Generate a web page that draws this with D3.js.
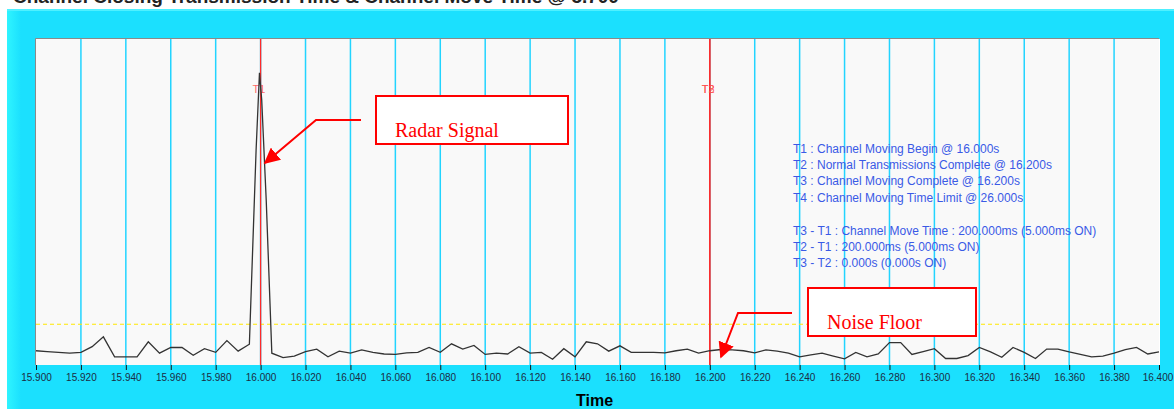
<!DOCTYPE html>
<html>
<head>
<meta charset="utf-8">
<script src="https://cdn.jsdelivr.net/npm/d3@7"></script>
<style>
  body { margin: 0; background: #fff; }
  svg { display: block; }
</style>
</head>
<body>
<svg width="1174" height="409"></svg>
<script>
// sample times (s) and levels (dBm)
var times = [15.900, 15.905, 15.910, 15.915, 15.920, 15.925, 15.930, 15.935, 15.940, 15.945,
  15.950, 15.955, 15.960, 15.965, 15.970, 15.975, 15.980, 15.985, 15.990, 15.995,
  15.998, 15.9995, 16.0005, 16.0025, 16.005,
  16.010, 16.015, 16.020, 16.025, 16.030, 16.035, 16.040, 16.045, 16.050, 16.055,
  16.060, 16.065, 16.070, 16.075, 16.080, 16.085, 16.090, 16.095, 16.100, 16.105,
  16.110, 16.115, 16.120, 16.125, 16.130, 16.135, 16.140, 16.145, 16.150, 16.155,
  16.160, 16.165, 16.170, 16.175, 16.180, 16.185, 16.190, 16.195, 16.200, 16.205,
  16.210, 16.215, 16.220, 16.225, 16.230, 16.235, 16.240, 16.245, 16.250, 16.255,
  16.260, 16.265, 16.270, 16.275, 16.280, 16.285, 16.290, 16.295, 16.300, 16.305,
  16.310, 16.315, 16.320, 16.325, 16.330, 16.335, 16.340, 16.345, 16.350, 16.355,
  16.360, 16.365, 16.370, 16.375, 16.380, 16.385, 16.390, 16.395, 16.400];
var levels = [-96.5, -96.7, -96.9, -97.1, -96.9, -95.5, -93.1, -98.0, -98.0, -98.0,
  -94.3, -97.1, -95.7, -95.7, -97.6, -96.0, -96.9, -94.0, -96.6, -94.9,
  -47.2, -28.3, -35.0, -59.5, -97.1,
  -98.2, -97.8, -96.7, -96.1, -98.0, -96.6, -97.1, -96.3, -96.9, -97.3,
  -97.4, -97.0, -96.9, -95.7, -96.9, -94.8, -96.1, -95.2, -97.4, -97.1,
  -97.3, -95.5, -97.1, -96.9, -98.6, -96.0, -98.0, -94.3, -94.8, -96.6,
  -95.3, -96.9, -96.9, -96.9, -97.0, -96.5, -96.1, -97.1, -96.5, -96.2,
  -96.3, -96.5, -97.0, -96.3, -96.6, -97.1, -98.0, -97.5, -97.1, -97.8,
  -98.5, -96.9, -98.0, -97.3, -94.5, -94.5, -97.4, -96.7, -96.0, -98.4,
  -98.4, -97.7, -95.7, -96.8, -98.1, -95.7, -96.9, -98.4, -96.1, -96.1,
  -96.8, -97.4, -98.0, -97.8, -97.1, -96.2, -95.7, -97.3, -96.8];

var noiseFloor = -90;

var markerNames = ["T1", "T2", "T3"];
var markerTimes = [16.000, 16.200, 16.200];

var infoLines = [
  "T1 : Channel Moving Begin @ 16.000s",
  "T2 : Normal Transmissions Complete @ 16.200s",
  "T3 : Channel Moving Complete @ 16.200s",
  "T4 : Channel Moving Time Limit @ 26.000s",
  "",
  "T3 - T1 : Channel Move Time : 200.000ms (5.000ms ON)",
  "T2 - T1 : 200.000ms (5.000ms ON)",
  "T3 - T2 : 0.000s (0.000s ON)"
];

var titleText = "Channel Closing Transmission Time & Channel Move Time @ 5.700";

var svg = d3.select("svg");

// title (cut off by the top of the window, as in the capture)
svg.append("text")
  .attr("x", 13).attr("y", 3)
  .style("font-family", "Arial, 'Liberation Sans', sans-serif")
  .style("font-weight", "bold")
  .style("font-size", "19px")
  .style("fill", "#222")
  .text(titleText);

// cyan panel
var defs = svg.append("defs");
var grad = defs.append("linearGradient").attr("id", "edge").attr("x1", 0).attr("x2", 1);
grad.append("stop").attr("offset", 0).attr("stop-color", "#2ff4ff");
grad.append("stop").attr("offset", 1).attr("stop-color", "#1be0fe");

svg.append("rect")
  .attr("x", 7).attr("y", 9).attr("width", 1167).attr("height", 400)
  .style("fill", "#1be0fe");
svg.append("rect")
  .attr("x", 7).attr("y", 9).attr("width", 14).attr("height", 400)
  .style("fill", "url(#edge)");
svg.append("rect")
  .attr("x", 7).attr("y", 9).attr("width", 1167).attr("height", 2)
  .style("fill", "#4ef0ff");

var plotLeft = 36, plotRight = 1159, plotTop = 39, plotBottom = 365;

var x = d3.scaleLinear().domain([15.9, 16.4]).range([plotLeft, plotRight]);
var y = d3.scaleLinear().domain([-100, -20]).range([plotBottom, plotTop]);

// plot area
svg.append("rect")
  .attr("x", plotLeft).attr("y", plotTop)
  .attr("width", plotRight - plotLeft).attr("height", plotBottom - plotTop)
  .style("fill", "#f9f9f9");
svg.append("line")
  .attr("x1", plotRight + 0.5).attr("x2", plotRight + 0.5).attr("y1", plotTop).attr("y2", plotBottom)
  .style("stroke", "#ffffff").style("stroke-width", 1);
svg.append("path")
  .attr("d", "M" + (plotLeft - 0.5) + "," + plotBottom + "V" + (plotTop - 0.5) + "H" + plotRight)
  .style("fill", "none").style("stroke", "#8a8a8a").style("stroke-width", 1);

var ticks = d3.range(0, 26).map(function(i) { return 15.9 + i * 0.02; });

// grid
svg.append("g").selectAll("line")
  .data(ticks.slice(1, -1))
  .enter()
  .append("line")
  .attr("x1", function(d) { return x(d); })
  .attr("x2", function(d) { return x(d); })
  .attr("y1", plotTop).attr("y2", plotBottom)
  .style("stroke", "#22d4ff")
  .style("stroke-width", 1.5);

// noise floor threshold
svg.append("line")
  .attr("x1", plotLeft).attr("x2", plotRight)
  .attr("y1", y(noiseFloor)).attr("y2", y(noiseFloor))
  .style("stroke", "#ffe800")
  .style("stroke-width", 1.2)
  .style("stroke-dasharray", "4,3");

// markers
svg.append("g").selectAll("line")
  .data(markerTimes)
  .enter()
  .append("line")
  .attr("x1", function(d) { return x(d); })
  .attr("x2", function(d) { return x(d); })
  .attr("y1", plotTop).attr("y2", plotBottom)
  .style("stroke", "#ff2a2a")
  .style("stroke-width", 1.3);

svg.append("g").selectAll("text")
  .data(markerNames)
  .enter()
  .append("text")
  .attr("x", function(d, i) { return x(markerTimes[i]) - 8; })
  .attr("y", 93)
  .style("font-family", "Arial, 'Liberation Sans', sans-serif")
  .style("font-size", "11px")
  .style("fill", "#ff4a4a")
  .style("fill-opacity", 0.85)
  .text(function(d) { return d; });

// trace
var pts = times.map(function(t, i) { return [t, levels[i]]; });
var line = d3.line()
  .x(function(d) { return x(d[0]); })
  .y(function(d) { return y(d[1]); });

svg.append("path")
  .datum(pts)
  .attr("d", line)
  .style("fill", "none")
  .style("stroke", "#333")
  .style("stroke-width", 1.3);

// x axis
var xAxis = d3.axisBottom(x)
  .tickValues(ticks)
  .tickFormat(d3.format(".3f"))
  .tickSize(5)
  .tickPadding(0);

var gx = svg.append("g")
  .attr("transform", "translate(0," + plotBottom + ")")
  .call(xAxis);
gx.select(".domain").remove();
gx.selectAll("line").style("stroke", "#111");
gx.selectAll("text")
  .attr("dy", "0.8em")
  .attr("y", 8)
  .attr("x", function(d, i) { return i === ticks.length - 1 ? -1.5 : 0; })
  .style("font-family", "Arial, 'Liberation Sans', sans-serif")
  .style("font-size", "10px")
  .style("fill", "#1c2c44");

svg.append("text")
  .attr("x", (plotLeft + plotRight) / 2 - 3)
  .attr("y", 406)
  .attr("text-anchor", "middle")
  .style("font-family", "Arial, 'Liberation Sans', sans-serif")
  .style("font-weight", "bold")
  .style("font-size", "16px")
  .style("fill", "#000")
  .text("Time");

// info text
svg.append("g").selectAll("text")
  .data(infoLines)
  .enter()
  .append("text")
  .attr("x", 793)
  .attr("y", function(d, i) { return 152.5 + i * 16.4; })
  .style("font-family", "Arial, 'Liberation Sans', sans-serif")
  .style("font-size", "12px")
  .style("fill", "#3a5ae6")
  .text(function(d) { return d; });

// callouts
defs.append("marker")
  .attr("id", "head")
  .attr("viewBox", "0 0 10 10")
  .attr("refX", 9).attr("refY", 5)
  .attr("markerWidth", 8).attr("markerHeight", 8)
  .attr("markerUnits", "strokeWidth")
  .attr("orient", "auto")
  .append("path")
  .attr("d", "M0,0L10,5L0,10z")
  .style("fill", "#ff0000");

var callouts = [
  { label: "Radar Signal", box: [376, 96, 192, 48], tx: 395, ty: 137, path: [[361, 120], [316, 120], [265, 163]] },
  { label: "Noise Floor", box: [808, 288, 168, 48], tx: 827, ty: 329, path: [[792, 313], [738, 313], [721, 357]] }
];

callouts.forEach(function(c) {
  svg.append("rect")
    .attr("x", c.box[0]).attr("y", c.box[1])
    .attr("width", c.box[2]).attr("height", c.box[3])
    .style("fill", "#fff")
    .style("stroke", "#ff0000")
    .style("stroke-width", 2);
  svg.append("text")
    .attr("x", c.tx).attr("y", c.ty)
    .style("font-family", "'Liberation Serif', 'Times New Roman', serif")
    .style("font-size", "20px")
    .style("fill", "#ff0000")
    .text(c.label);
  svg.append("path")
    .attr("d", d3.line()(c.path))
    .style("fill", "none")
    .style("stroke", "#ff0000")
    .style("stroke-width", 2)
    .attr("marker-end", "url(#head)");
});
</script>
</body>
</html>
